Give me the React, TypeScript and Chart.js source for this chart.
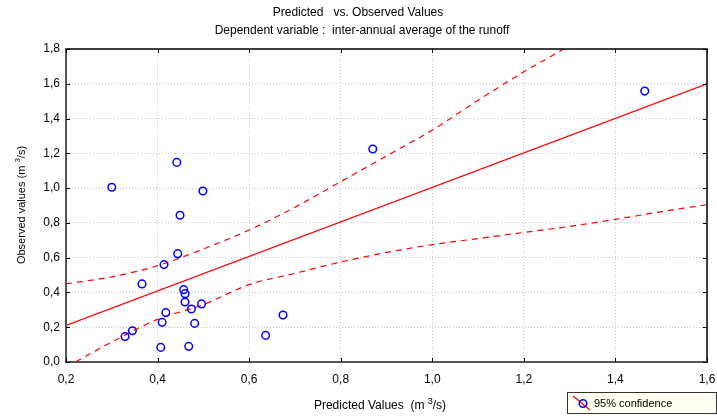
import React, { useEffect, useRef } from "react";
import { Chart, registerables } from "chart.js";

Chart.register(...registerables);

const obsX = [0.300, 0.442, 0.499, 0.449, 0.444, 0.414, 0.366, 0.457, 0.460, 0.460, 0.496, 0.474, 0.418, 0.410, 0.481, 0.345, 0.329, 0.636, 0.407, 0.468, 0.674, 0.870, 1.464];
const obsY = [1.005, 1.148, 0.983, 0.844, 0.623, 0.560, 0.449, 0.416, 0.393, 0.345, 0.334, 0.305, 0.284, 0.228, 0.222, 0.180, 0.146, 0.153, 0.084, 0.090, 0.270, 1.225, 1.558];

const fitX = [0.2, 1.6];
const fitY = [0.21, 1.6];

const upperX = [0.2, 0.3, 0.4, 0.5, 0.6, 0.7, 0.8, 0.9, 1.0, 1.1, 1.2, 1.28, 1.32];
const upperY = [0.449, 0.49, 0.554, 0.65, 0.759, 0.89, 1.037, 1.185, 1.334, 1.505, 1.669, 1.79, 1.86];

const lowerX = [0.2, 0.3, 0.4, 0.5, 0.6, 0.7, 0.8, 0.9, 1.0, 1.1, 1.2, 1.3, 1.4, 1.5, 1.6];
const lowerY = [-0.03, 0.115, 0.245, 0.33, 0.445, 0.51, 0.575, 0.63, 0.675, 0.71, 0.745, 0.78, 0.82, 0.865, 0.905];

const xTicks = [0.2, 0.4, 0.6, 0.8, 1.0, 1.2, 1.4, 1.6];
const yTicks = [0, 0.2, 0.4, 0.6, 0.8, 1.0, 1.2, 1.4, 1.6, 1.8];

const titleLines = ["Predicted   vs. Observed Values", "Dependent variable :  inter-annual average of the runoff"];
const xTitleParts = ["Predicted Values  (m ", "3", "/s)"];
const yTitleParts = ["Observed values (m ", "3", "/s)"];
const legendLabel = "95% confidence";

const FONT = "'Liberation Sans', Arial, sans-serif";

const pts = (xs: number[], ys: number[]) => xs.map((x, i) => ({ x, y: ys[i] }));
const fmt = (v: number) => Number(v).toFixed(1).replace(".", ",");

function drawSup(ctx: any, parts: string[], cx: number, cy: number, size: number) {
  ctx.textAlign = "left";
  ctx.textBaseline = "middle";
  const big = `${size}px ${FONT}`;
  const small = `${Math.round(size * 0.72)}px ${FONT}`;
  ctx.font = big;
  const w0 = ctx.measureText(parts[0]).width;
  const w2 = ctx.measureText(parts[2]).width;
  ctx.font = small;
  const w1 = ctx.measureText(parts[1]).width;
  let x = cx - (w0 + w1 + w2) / 2;
  ctx.font = big;
  ctx.fillText(parts[0], x, cy);
  x += w0;
  ctx.font = small;
  ctx.fillText(parts[1], x, cy - size * 0.4);
  x += w1;
  ctx.font = big;
  ctx.fillText(parts[2], x, cy);
}

const decor = {
  id: "decor",
  afterDraw(chart: any) {
    const ctx = chart.ctx;
    const a = chart.chartArea;
    const xs = chart.scales.x;
    const ys = chart.scales.y;
    ctx.save();
    // titles
    ctx.fillStyle = "#000";
    ctx.font = `12px ${FONT}`;
    ctx.textAlign = "center";
    ctx.textBaseline = "middle";
    ctx.fillText(titleLines[0], 358, 13);
    ctx.fillText(titleLines[1], 362, 31);
    // x title
    drawSup(ctx, xTitleParts, 380, 406, 12);
    // y title
    ctx.save();
    ctx.translate(22, 205);
    ctx.rotate(-Math.PI / 2);
    drawSup(ctx, yTitleParts, 0, 0, 11);
    ctx.restore();

    // borders
    ctx.lineCap = "square";
    ctx.strokeStyle = "#000";
    ctx.lineWidth = 1.5;
    ctx.beginPath();
    ctx.moveTo(a.left, a.top);
    ctx.lineTo(a.right, a.top);
    ctx.lineTo(a.right, a.bottom);
    ctx.stroke();
    ctx.strokeStyle = "#555";
    ctx.lineWidth = 2;
    ctx.beginPath();
    ctx.moveTo(a.left, a.top);
    ctx.lineTo(a.left, a.bottom);
    ctx.lineTo(a.right, a.bottom);
    ctx.stroke();

    // inner tick marks
    ctx.strokeStyle = "#000";
    ctx.lineWidth = 1;
    ctx.lineCap = "butt";
    ctx.beginPath();
    xTicks.forEach((v) => {
      const p = Math.round(xs.getPixelForValue(v)) + 0.5;
      ctx.moveTo(p, a.bottom);
      ctx.lineTo(p, a.bottom - 4);
      ctx.moveTo(p, a.top);
      ctx.lineTo(p, a.top + 4);
    });
    yTicks.forEach((v) => {
      const p = Math.round(ys.getPixelForValue(v)) + 0.5;
      ctx.moveTo(a.left, p);
      ctx.lineTo(a.left + 4, p);
      ctx.moveTo(a.right, p);
      ctx.lineTo(a.right - 4, p);
    });
    ctx.stroke();

    // legend box
    ctx.fillStyle = "#FFFFF2";
    ctx.fillRect(567.5, 392.5, 149, 21);
    ctx.strokeStyle = "#333";
    ctx.lineWidth = 1;
    ctx.strokeRect(567.5, 392.5, 149, 21);
    ctx.strokeStyle = "#FF0000";
    ctx.lineWidth = 1.2;
    ctx.beginPath();
    ctx.moveTo(573, 396);
    ctx.lineTo(590, 410);
    ctx.stroke();
    ctx.strokeStyle = "#0000FF";
    ctx.lineWidth = 1.5;
    ctx.beginPath();
    ctx.arc(583, 403.5, 3.8, 0, Math.PI * 2);
    ctx.stroke();
    ctx.fillStyle = "#000";
    ctx.font = `11px ${FONT}`;
    ctx.textAlign = "left";
    ctx.textBaseline = "middle";
    ctx.fillText(legendLabel, 594, 403.5);
    ctx.restore();
  },
};

export default function App() {
  const ref = useRef<HTMLCanvasElement | null>(null);
  useEffect(() => {
    document.body.style.margin = "0";
    const c = ref.current;
    if (!c) return;
    const chart = new Chart(c, {
      type: "scatter",
      data: {
        datasets: [
          {
            data: pts(obsX, obsY),
            pointStyle: "circle",
            pointRadius: 3.8,
            pointBorderColor: "#0000FF",
            pointBackgroundColor: "rgba(0,0,0,0)",
            pointBorderWidth: 1.5,
            showLine: false,
            order: 0,
          } as any,
          {
            data: pts(fitX, fitY),
            showLine: true,
            borderColor: "#FF0000",
            borderWidth: 1.2,
            pointRadius: 0,
            order: 1,
          },
          {
            data: pts(upperX, upperY),
            showLine: true,
            borderColor: "#FF0000",
            borderWidth: 1.2,
            borderDash: [6, 5],
            pointRadius: 0,
            cubicInterpolationMode: "monotone",
            order: 2,
          },
          {
            data: pts(lowerX, lowerY),
            showLine: true,
            borderColor: "#FF0000",
            borderWidth: 1.2,
            borderDash: [6, 5],
            pointRadius: 0,
            cubicInterpolationMode: "monotone",
            order: 3,
          },
        ],
      },
      options: {
        responsive: false,
        animation: false,
        devicePixelRatio: 1,
        layout: { padding: { top: 49, right: 10, left: 0, bottom: 0 } },
        plugins: { legend: { display: false }, tooltip: { enabled: false }, title: { display: false } },
        scales: {
          x: {
            type: "linear",
            min: 0.2,
            max: 1.6,
            afterFit: (s: any) => { s.height = 54; s.paddingLeft = 0; s.paddingRight = 0; },
            afterBuildTicks: (s: any) => { s.ticks = xTicks.map((v) => ({ value: v })); },
            ticks: { callback: (v: any) => fmt(v), color: "#000", font: { family: FONT, size: 12 }, padding: 10, maxRotation: 0, autoSkip: false },
            grid: { color: "#c8c8c8", drawTicks: false, lineWidth: 1 },
            border: { display: false, dash: [1, 2] },
          },
          y: {
            type: "linear",
            min: 0,
            max: 1.8,
            afterFit: (s: any) => { s.width = 66; s.paddingTop = 0; s.paddingBottom = 0; },
            afterBuildTicks: (s: any) => { s.ticks = yTicks.map((v) => ({ value: v })); },
            ticks: { callback: (v: any) => fmt(v), color: "#000", font: { family: FONT, size: 12 }, padding: 6, autoSkip: false },
            grid: { color: "#c8c8c8", drawTicks: false, lineWidth: 1 },
            border: { display: false, dash: [1, 2] },
          },
        },
      },
      plugins: [decor],
    });
    return () => chart.destroy();
  }, []);
  return (
    <div style={{ position: "absolute", left: 0, top: 0, width: 717, height: 416 }}>
      <canvas ref={ref} width={717} height={416} />
    </div>
  );
}
